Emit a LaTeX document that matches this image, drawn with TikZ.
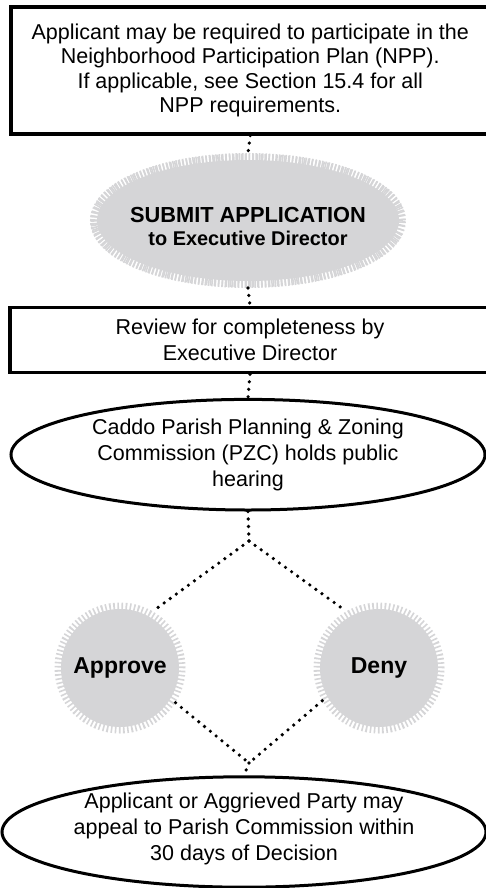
\documentclass[tikz,border=0pt]{standalone}
\usepackage{fontspec}
\setmainfont{Liberation Sans}
\usetikzlibrary{shapes.geometric}
\definecolor{burstgray}{RGB}{213,213,215}

\begin{document}
\begin{tikzpicture}[x=1pt,y=-1pt,
  txt/.style={align=center, font=\fontsize{21.5}{26}\selectfont},
  framebox/.style={draw, rectangle, txt, inner sep=0pt},
  oval/.style={draw, ellipse, line width=3pt, txt, inner sep=0pt},
  burst/.style={fill=burstgray, outer sep=6.5pt,
     preaction={draw=burstgray, line width=13pt, dash pattern=on 1.6pt off 2.3pt}},
  decision/.style={burst, circle, inner sep=0pt, minimum size=118pt,
     font=\fontsize{23}{27}\selectfont\bfseries},
  dots/.style={line width=3.6pt, dash pattern=on 0pt off 7.5pt, line cap=round}
]
\useasboundingbox (0,0) rectangle (486,888);

% process steps
\node[framebox, line width=4pt, minimum width=479.5pt, minimum height=126.7pt,
      font=\fontsize{21.5}{24.5}\selectfont] (npp) at (250.25,70.3)
  {Applicant may be required to participate in the\\Neighborhood Participation Plan (NPP).\\If applicable, see Section 15.4 for all\\NPP requirements.};

\node[burst, ellipse, inner xsep=-14pt, inner ysep=0pt, outer sep=7pt,
      preaction={draw=burstgray, line width=14pt, dash pattern=on 1.5pt off 1.8pt},
      minimum width=302pt, minimum height=121pt, align=center,
      font=\fontsize{21.8}{23}\selectfont\bfseries] (submit) at (248,220.5)
  {\rule{0pt}{28pt}SUBMIT APPLICATION\\\fontsize{19.9}{23}\selectfont to Executive Director};

\node[framebox, line width=3.3pt, minimum width=480pt, minimum height=65pt] (review) at (250,340.2)
  {Review for completeness by\\Executive Director};

\node[oval, minimum width=474pt, minimum height=110.6pt] (pzc) at (248,454.7)
  {Caddo Parish Planning \& Zoning\\Commission (PZC) holds public\\hearing};

\node[decision] (approve) at (120,668) {Approve};
\node[decision] (deny) at (379,668) {Deny};

\node[oval, minimum width=484pt, minimum height=104pt] (appeal) at (244,832)
  {Applicant or Aggrieved Party may\\appeal to Parish Commission within\\30 days of Decision\rule[-10.5pt]{0pt}{10.5pt}};

% branch points of the dotted diamond
\coordinate (fork) at (249,541);
\coordinate (join) at (249,763);

% dotted connectors
\draw[dots] (npp.south) -- (submit.north);
\draw[dots] (submit.south) -- (review.north);
\draw[dots] (review.south) -- (pzc.north);
\draw[dots] (pzc.south) -- (fork);
\draw[dots] (fork) -- (approve.60);
\draw[dots] (fork) -- (deny.120);
\draw[dots] (approve.-32) -- (join);
\draw[dots] (deny.210) -- (join);
\draw[dots] (join) -- (appeal.north);
\end{tikzpicture}
\end{document}
